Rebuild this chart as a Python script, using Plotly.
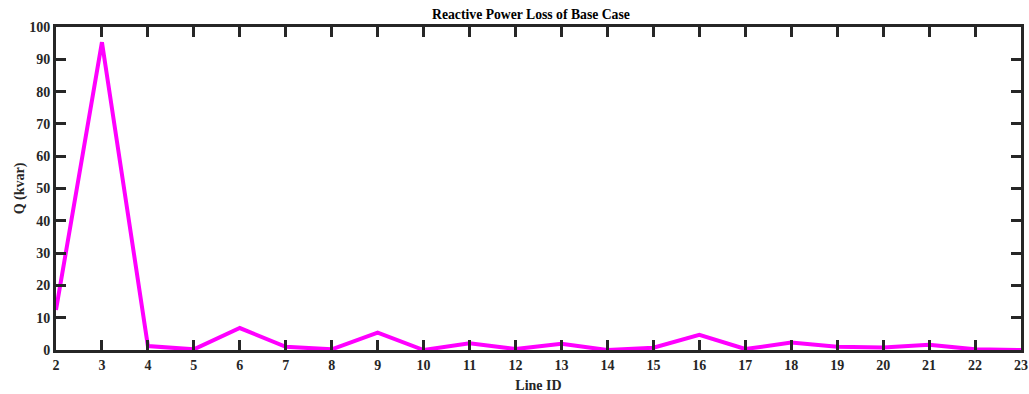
import plotly.graph_objects as go

# Reactive power loss per line for the base case
line_id = list(range(2, 24))
q_kvar = [12.4, 95.3, 1.2, 0.2, 6.8, 1.0, 0.2, 5.4, 0.0, 2.1, 0.3, 1.9,
          0.0, 0.7, 4.7, 0.3, 2.3, 1.0, 0.8, 1.6, 0.2, 0.0]

x_ticks = list(range(2, 24))
y_ticks = list(range(0, 101, 10))

font_family = "Liberation Serif, Times New Roman, serif"

fig = go.Figure()
fig.add_trace(go.Scatter(
    x=line_id, y=q_kvar, mode="lines",
    line=dict(color="#FF00FF", width=4),
    cliponaxis=False,
))

axis_common = dict(
    showline=True, linecolor="#262626", linewidth=3,
    ticks="inside", ticklen=10, tickwidth=3, tickcolor="#262626",
    mirror="ticks", showgrid=False, zeroline=False, automargin=False,
    tickfont=dict(family=font_family, size=14, color="#262626"),
)

fig.update_layout(
    width=1029, height=394,
    margin=dict(l=56, r=8, t=27, b=44, autoexpand=False),
    paper_bgcolor="white", plot_bgcolor="white",
    showlegend=False,
    font=dict(family=font_family, color="#262626"),
    title=dict(
        text="<b>Reactive Power Loss of Base Case</b>",
        x=0.516, xanchor="center", y=0.965, yanchor="middle",
        xref="container",
        font=dict(family=font_family, size=13.7, color="#000000"),
    ),
    xaxis=dict(
        range=[2, 23], tickvals=x_ticks,
        ticktext=[f"<b>{v}</b>" for v in x_ticks],
        title=dict(text="<b>Line ID</b>", standoff=9,
                   font=dict(family=font_family, size=14, color="#262626")),
        **axis_common,
    ),
    yaxis=dict(
        range=[0, 100], tickvals=y_ticks,
        ticktext=[f"<b>{v}</b>" for v in y_ticks],
        title=dict(text="<b>Q (kvar)</b>", standoff=2,
                   font=dict(family=font_family, size=14, color="#262626")),
        **axis_common,
    ),
)

fig.write_html("out.html")
